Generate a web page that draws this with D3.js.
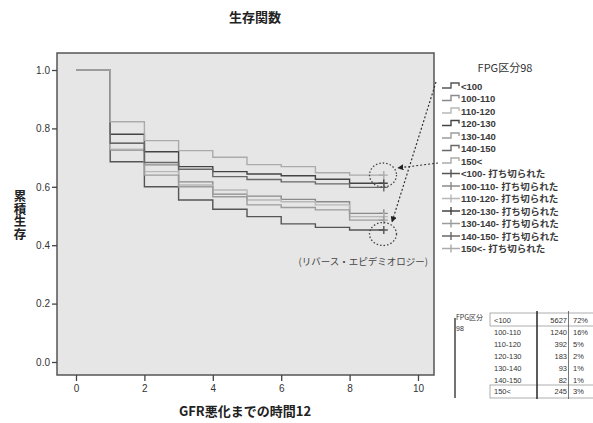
<!DOCTYPE html>
<html>
<head>
<meta charset="utf-8">
<script src="https://cdn.jsdelivr.net/npm/d3@7"></script>
<style>
  body { margin: 0; background: #fff; }
  text { font-family: "Liberation Sans", Arial, "Noto Sans CJK JP", sans-serif; }
  .jp { font-family: "Noto Sans CJK JP", sans-serif; }
  .leg { font-family: "Liberation Sans", "Noto Sans CJK JP", sans-serif; }
</style>
</head>
<body>
<script>
const width = 593;
const height = 423;

// 時間 (step points), groups
const times = [0, 1, 2, 3, 4, 5, 6, 7, 8, 9];
const groups = ["<100", "100-110", "110-120", "120-130", "130-140", "140-150", "150<"];

// survival per interval [t, t+1)
const survLt100 = [1, 0.686, 0.600, 0.555, 0.523, 0.498, 0.473, 0.461, 0.452];
const surv100110 = [1, 0.726, 0.675, 0.617, 0.575, 0.568, 0.557, 0.549, 0.509];
const surv110120 = [1, 0.729, 0.652, 0.606, 0.589, 0.555, 0.549, 0.538, 0.498];
const surv120130 = [1, 0.780, 0.720, 0.669, 0.652, 0.644, 0.638, 0.626, 0.612];
const surv130140 = [1, 0.749, 0.640, 0.600, 0.566, 0.538, 0.529, 0.521, 0.486];
const surv140150 = [1, 0.749, 0.683, 0.660, 0.635, 0.625, 0.617, 0.610, 0.598];
const survGt150 = [1, 0.823, 0.758, 0.724, 0.701, 0.676, 0.669, 0.648, 0.640];

const counts = [5627, 1240, 392, 183, 93, 82, 245];
const percents = ["72%", "16%", "5%", "2%", "1%", "1%", "3%"];
const xTicks = [0, 2, 4, 6, 8, 10];
const yTicks = [0, 0.2, 0.4, 0.6, 0.8, 1.0];

const lineColors = ["#555", "#8a8a8a", "#b8b8b8", "#444", "#9c9c9c", "#686868", "#ababab"];

const series = [survLt100, surv100110, surv110120, surv120130, surv130140, surv140150, survGt150]
  .map((vals, i) => ({ name: groups[i], vals: vals, color: lineColors[i] }));

const svg = d3.select("body").append("svg")
  .attr("width", width)
  .attr("height", height)
  .attr("viewBox", [0, 0, width, height]);

const box = { left: 57, right: 434, top: 53, bottom: 375 };

const x = d3.scaleLinear().domain([0, 10]).range([76, 418]);
const y = d3.scaleLinear().domain([0, 1]).range([362, 70]);

// title
svg.append("text")
  .attr("class", "jp")
  .attr("x", 255).attr("y", 22)
  .attr("text-anchor", "middle")
  .attr("font-size", "13px").attr("font-weight", "bold")
  .attr("fill", "#222")
  .text("生存関数");

// plot area
svg.append("rect")
  .attr("x", box.left).attr("y", box.top)
  .attr("width", box.right - box.left).attr("height", box.bottom - box.top)
  .attr("fill", "#e6e6e6")
  .attr("stroke", "#555").attr("stroke-width", 1.5);

// axes
const xAxis = svg.append("g")
  .attr("transform", "translate(0," + box.bottom + ")")
  .call(d3.axisBottom(x).tickValues(xTicks).tickSize(6).tickPadding(4));
xAxis.select(".domain").remove();
xAxis.selectAll("line").attr("stroke", "#444").attr("stroke-width", 1.3);
xAxis.selectAll("text").attr("font-size", "10px").attr("fill", "#333")
  .style("font-family", "Liberation Sans, Arial, sans-serif");

const yAxis = svg.append("g")
  .attr("transform", "translate(" + box.left + ",0)")
  .call(d3.axisLeft(y).tickValues(yTicks).tickFormat(d3.format(".1f")).tickSize(5).tickPadding(2));
yAxis.select(".domain").remove();
yAxis.selectAll("line").attr("stroke", "#444").attr("stroke-width", 1.3);
yAxis.selectAll("text").attr("font-size", "10px").attr("fill", "#333")
  .style("font-family", "Liberation Sans, Arial, sans-serif");

// axis titles
svg.append("text")
  .attr("class", "jp")
  .attr("x", 245).attr("y", 416)
  .attr("text-anchor", "middle")
  .attr("font-size", "13px").attr("font-weight", "bold")
  .attr("fill", "#222")
  .text("GFR悪化までの時間12");

// vertical stacked y title
const yTitle = "累積生存";
svg.append("text")
  .attr("class", "jp")
  .attr("x", 20)
  .attr("y", 190)
  .attr("font-size", "12.5px").attr("font-weight", "bold")
  .attr("fill", "#222")
  .style("writing-mode", "vertical-rl")
  .style("text-orientation", "upright")
  .attr("text-anchor", "start")
  .text(yTitle);

// survival curves (step after)
const line = d3.line()
  .x((d) => x(d[0]))
  .y((d) => y(d[1]))
  .curve(d3.curveStepAfter);

const curves = svg.append("g");
series.forEach(function (s) {
  const pts = s.vals.map((v, i) => [times[i], v]);
  pts.push([times[times.length - 1], s.vals[s.vals.length - 1]]);
  curves.append("path")
    .attr("d", line(pts))
    .attr("fill", "none")
    .attr("stroke", s.color)
    .attr("stroke-width", 1.4);

  // censored mark
  const cx = x(times[times.length - 1]);
  const cy = y(s.vals[s.vals.length - 1]);
  curves.append("path")
    .attr("d", "M" + (cx - 5) + "," + cy + "H" + (cx + 4) + "M" + cx + "," + (cy - 4) + "V" + (cy + 4))
    .attr("stroke", s.color)
    .attr("stroke-width", 1.4);
});

// annotation
const ann = svg.append("g");
ann.append("ellipse")
  .attr("cx", 383).attr("cy", 175).attr("rx", 13.5).attr("ry", 12)
  .attr("fill", "none").attr("stroke", "#444").attr("stroke-width", 1.3)
  .attr("stroke-dasharray", "1.5,2");
ann.append("ellipse")
  .attr("cx", 383).attr("cy", 234).attr("rx", 13.5).attr("ry", 11.5)
  .attr("fill", "none").attr("stroke", "#444").attr("stroke-width", 1.3)
  .attr("stroke-dasharray", "1.5,2");

svg.append("defs").append("marker")
  .attr("id", "arr")
  .attr("viewBox", "0 0 10 10")
  .attr("refX", 9).attr("refY", 5)
  .attr("markerWidth", 5).attr("markerHeight", 5)
  .attr("orient", "auto")
  .append("path").attr("d", "M0,0L10,5L0,10z").attr("fill", "#222");

ann.append("line")
  .attr("x1", 436).attr("y1", 82).attr("x2", 392).attr("y2", 222)
  .attr("stroke", "#333").attr("stroke-width", 1.2)
  .attr("stroke-dasharray", "2,2")
  .attr("marker-end", "url(#arr)");
ann.append("line")
  .attr("x1", 438).attr("y1", 163).attr("x2", 398).attr("y2", 168)
  .attr("stroke", "#333").attr("stroke-width", 1.2)
  .attr("stroke-dasharray", "2,2")
  .attr("marker-end", "url(#arr)");

ann.append("text")
  .attr("class", "jp")
  .attr("x", 428).attr("y", 265)
  .attr("text-anchor", "end")
  .attr("font-size", "9.5px")
  .attr("fill", "#444")
  .text("(リバース・エピデミオロジー)");

// legend
const legend = svg.append("g");
legend.append("text")
  .attr("class", "jp")
  .attr("x", 505).attr("y", 72)
  .attr("text-anchor", "middle")
  .attr("font-size", "11px")
  .attr("fill", "#333")
  .text("FPG区分98");

const legendItems = series.map((s) => ({ label: s.name, color: s.color, kind: "step" }))
  .concat(series.map((s) => ({ label: s.name + "- 打ち切られた", color: s.color, kind: "cens" })));

const legendRow = legend.selectAll(".legend-row")
  .data(legendItems)
  .enter()
  .append("g")
  .attr("class", "legend-row")
  .attr("transform", (d, i) => "translate(0," + (86 + i * 12.5) + ")");

legendRow.append("path")
  .attr("d", (d) => d.kind === "step"
    ? "M442,2H451V-3H459V0"
    : "M442,0H460M451,-4V4")
  .attr("fill", "none")
  .attr("stroke", (d) => d.color)
  .attr("stroke-width", 1.4);

legendRow.append("text")
  .attr("class", "leg")
  .attr("x", 461).attr("y", 3.5)
  .attr("font-size", "9.5px")
  .attr("font-weight", "bold")
  .attr("fill", "#3a3a3a")
  .text((d) => d.label);

// frequency table
const table = svg.append("g");
const rowY = (i) => 320 + i * 11.9;
table.append("rect")
  .attr("x", 490).attr("y", 313).attr("width", 110).attr("height", 13)
  .attr("fill", "none").attr("stroke", "#999").attr("stroke-width", 0.8);
table.append("rect")
  .attr("x", 490).attr("y", 385).attr("width", 110).attr("height", 13)
  .attr("fill", "none").attr("stroke", "#999").attr("stroke-width", 0.8);
table.append("line")
  .attr("x1", 455).attr("x2", 455).attr("y1", 318).attr("y2", 398)
  .attr("stroke", "#444").attr("stroke-width", 1.5);
table.append("line")
  .attr("x1", 537).attr("x2", 537).attr("y1", 311).attr("y2", 399)
  .attr("stroke", "#333").attr("stroke-width", 1.6);
table.append("line")
  .attr("x1", 568.5).attr("x2", 568.5).attr("y1", 311).attr("y2", 399)
  .attr("stroke", "#555").attr("stroke-width", 0.8);

table.append("text").attr("class", "jp")
  .attr("x", 456).attr("y", 320).attr("font-size", "7px").attr("fill", "#333")
  .text("FPG区分");
table.append("text")
  .attr("x", 456).attr("y", 331).attr("font-size", "7px").attr("fill", "#333")
  .text("98");

table.selectAll(".cat").data(groups).enter().append("text")
  .attr("class", "cat")
  .attr("x", 494).attr("y", (d, i) => rowY(i) + 3)
  .attr("font-size", "7.5px").attr("fill", "#333")
  .text((d) => d);
table.selectAll(".cnt").data(counts).enter().append("text")
  .attr("class", "cnt")
  .attr("x", 567).attr("y", (d, i) => rowY(i) + 3)
  .attr("text-anchor", "end")
  .attr("font-size", "7.5px").attr("fill", "#333")
  .text((d) => d);
table.selectAll(".pct").data(percents).enter().append("text")
  .attr("class", "pct")
  .attr("x", 573).attr("y", (d, i) => rowY(i) + 3)
  .attr("font-size", "7.5px").attr("fill", "#333")
  .text((d) => d);
</script>
</body>
</html>
